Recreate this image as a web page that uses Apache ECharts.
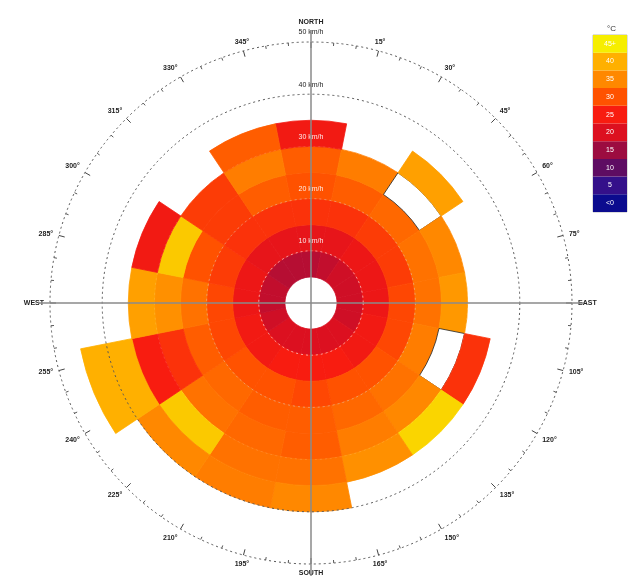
<!DOCTYPE html>
<html><head><meta charset="utf-8">
<script src="https://cdn.jsdelivr.net/npm/echarts@6/dist/echarts.min.js"></script>
<style>html,body{margin:0;padding:0;background:#fff}#c{width:632px;height:579px}</style>
</head><body><div id="c"></div>
<script>
// ---------- data ----------
const directions = ['N','NNE','NE','ENE','E','ESE','SE','SSE','S','SSW','SW','WSW','W','WNW','NW','NNW'];
const speedBins = ['5-10','10-15','15-20','20-25','25-30','30-35','35-40','40-45'];
const binSize = 5;      // km/h per radial bin
const calmLimit = 5;    // inner empty hole (km/h)
// temperature (°C) per direction in each wind-speed bin (null = no observation)
const temp05to10 = [17,18,19,19,19,19,20,20,20,20,20,19,18,18,17,17];
const temp10to15 = [22,22,23,23,23,24,24,25,25,25,24,24,23,23,22,22];
const temp15to20 = [27,27,28,28,29,29,30,30,29,30,30,29,29,28,27,27];
const temp20to25 = [30,31,32,33,33,34,33,32,31,31,32,31,33,30,28,31];
const temp25to30 = [31,34,null,35,37,null,35,34,31,32,33,27,36,42,28,34];
const temp30to35 = [24,null,38,null,null,27,43,36,33,33,42,25,38,24,null,31];
const temp35to40 = [null,null,null,null,null,null,null,null,35,34,35,40,null,null,null,null];
const temp40to45 = [null,null,null,null,null,null,null,null,null,null,null,40,null,null,null,null];
const speedTicks = [0,10,20,30,40,50];
const angleLabelStep = 15;
const cardinalNames = {90:'EAST',180:'SOUTH',270:'WEST'};
const legendLabels = ['<0','5','10','15','20','25','30','35','40','45+'];
const legendTemps  = [0,5,10,15,20,25,30,35,40,45];
const legendColors = ['#0b0b8e','#34108a','#5e0c62','#9c0c40','#dc1020','#f81c10','#ff5200','#ff8800','#ffb000','#f6ee00'];

// ---------- helpers ----------
const binTemps = [temp05to10,temp10to15,temp15to20,temp20to25,temp25to30,temp30to35,temp35to40,temp40to45];
function hex2rgb(h){return [parseInt(h.slice(1,3),16),parseInt(h.slice(3,5),16),parseInt(h.slice(5,7),16)];}
function colorOf(t){
  const n = legendTemps.length;
  if (t <= legendTemps[0]) return legendColors[0];
  if (t >= legendTemps[n-1]) return legendColors[n-1];
  let i = 0; while (t > legendTemps[i+1]) i++;
  const f = (t - legendTemps[i])/(legendTemps[i+1]-legendTemps[i]);
  const a = hex2rgb(legendColors[i]), b = hex2rgb(legendColors[i+1]);
  const c = a.map((v,k)=>Math.round(v+(b[k]-v)*f));
  return 'rgb('+c.join(',')+')';
}
const extent = directions.map((d,di)=>{
  let e = -1; binTemps.forEach((arr,k)=>{ if(arr[di]!=null) e=k; }); return e;
});

const series = [];
series.push({
  type:'bar', coordinateSystem:'polar', polarIndex:0, stack:'ws', silent:true,
  barCategoryGap:'0%', name:'calm',
  data: directions.map(()=>({value:calmLimit,itemStyle:{color:'rgba(0,0,0,0)'}})),
  z:2
});
binTemps.forEach((arr,k)=>{
  series.push({
    type:'bar', coordinateSystem:'polar', polarIndex:0, stack:'ws', silent:true,
    barCategoryGap:'0%', name:speedBins[k], z:2,
    data: directions.map((d,di)=>{
      if (k > extent[di]) return '-';
      const t = arr[di];
      if (t == null) return {value:binSize,itemStyle:{color:'#ffffff',borderColor:'#222',borderWidth:0.8}};
      const col = colorOf(t);
      return {value:binSize,itemStyle:{color:col,borderColor:col,borderWidth:0.8}};
    })
  });
});

// legend bar
series.push({
  type:'bar', xAxisIndex:0, yAxisIndex:0, silent:true, barWidth:'100%',
  data: legendLabels.map((l,i)=>({value:1,itemStyle:{color:legendColors[i]}})),
  label:{show:true,position:'inside',formatter:p=>p.name,color:'#fff',fontSize:7,fontFamily:'Liberation Sans'}
});

const C = [311,303], R = 261;
const chart = echarts.init(document.getElementById('c'),null,{renderer:'canvas'});
chart.setOption({
  animation:false,
  backgroundColor:'#fff',
  title:{text:'°C',left:602,top:20,textStyle:{fontSize:8,fontWeight:'normal',color:'#333',fontFamily:'Liberation Sans'}},
  polar:[
    {center:C,radius:R},
    {center:C,radius:R},
    {center:C,radius:273}
  ],
  angleAxis:[
    {polarIndex:0,type:'category',data:directions,startAngle:90+180/directions.length,clockwise:true,show:false},
    {polarIndex:1,type:'value',min:0,max:360,interval:angleLabelStep,startAngle:90,clockwise:true,z:6,
      axisLine:{show:true,lineStyle:{color:'#555',width:1,type:[2,3]}},
      axisTick:{show:true,inside:true,length:6,lineStyle:{color:'#444',width:1}},
      minorTick:{show:true,splitNumber:3,length:3,lineStyle:{color:'#555'}},
      splitLine:{show:false},
      axisLabel:{show:true,margin:6,fontSize:7,fontWeight:'bold',color:'#222',fontFamily:'Liberation Sans',
        formatter:v=>{ if(v===0||v===360) return ''; return cardinalNames[v] || (v+'°'); }}
    },
    {polarIndex:2,type:'value',min:0,max:360,interval:90,startAngle:90,clockwise:true,z:7,
      axisLine:{show:false},axisTick:{show:false},axisLabel:{show:false},
      splitLine:{show:true,lineStyle:{color:'#8a8a8a',width:1.5}}
    }
  ],
  radiusAxis:[
    {polarIndex:0,type:'value',min:0,max:50,show:false},
    {polarIndex:1,type:'value',min:0,max:50,interval:10,z:6,
      name:'NORTH',nameLocation:'end',nameGap:16,
      nameTextStyle:{fontSize:7,fontWeight:'bold',color:'#222',fontFamily:'Liberation Sans',align:'center',verticalAlign:'bottom'},
      axisLine:{show:false},axisTick:{show:false},
      axisLabel:{show:true,margin:0,align:'center',verticalAlign:'bottom',padding:[0,0,6,0],fontSize:7,fontFamily:'Liberation Sans',
        formatter:v=> v===0 ? '' : v+' km/h',
        color:(v)=> (+v>=40 ? '#222' : 'rgba(255,255,255,0.9)')},
      splitLine:{show:true,lineStyle:{type:[2,3],width:1,
        color:['rgba(0,0,0,0)','rgba(255,255,255,0.6)','rgba(220,220,220,0.45)','rgba(255,255,255,0.12)','#555','rgba(0,0,0,0)']}}
    },
    {polarIndex:2,type:'value',min:0,max:50,show:false}
  ],
  grid:{left:593,top:35,width:34,height:177,show:true,borderColor:'#bbb',borderWidth:1,backgroundColor:'transparent'},
  xAxis:{type:'value',min:0,max:1,show:false},
  yAxis:{type:'category',data:legendLabels,show:false},
  series
});
</script></body></html>
